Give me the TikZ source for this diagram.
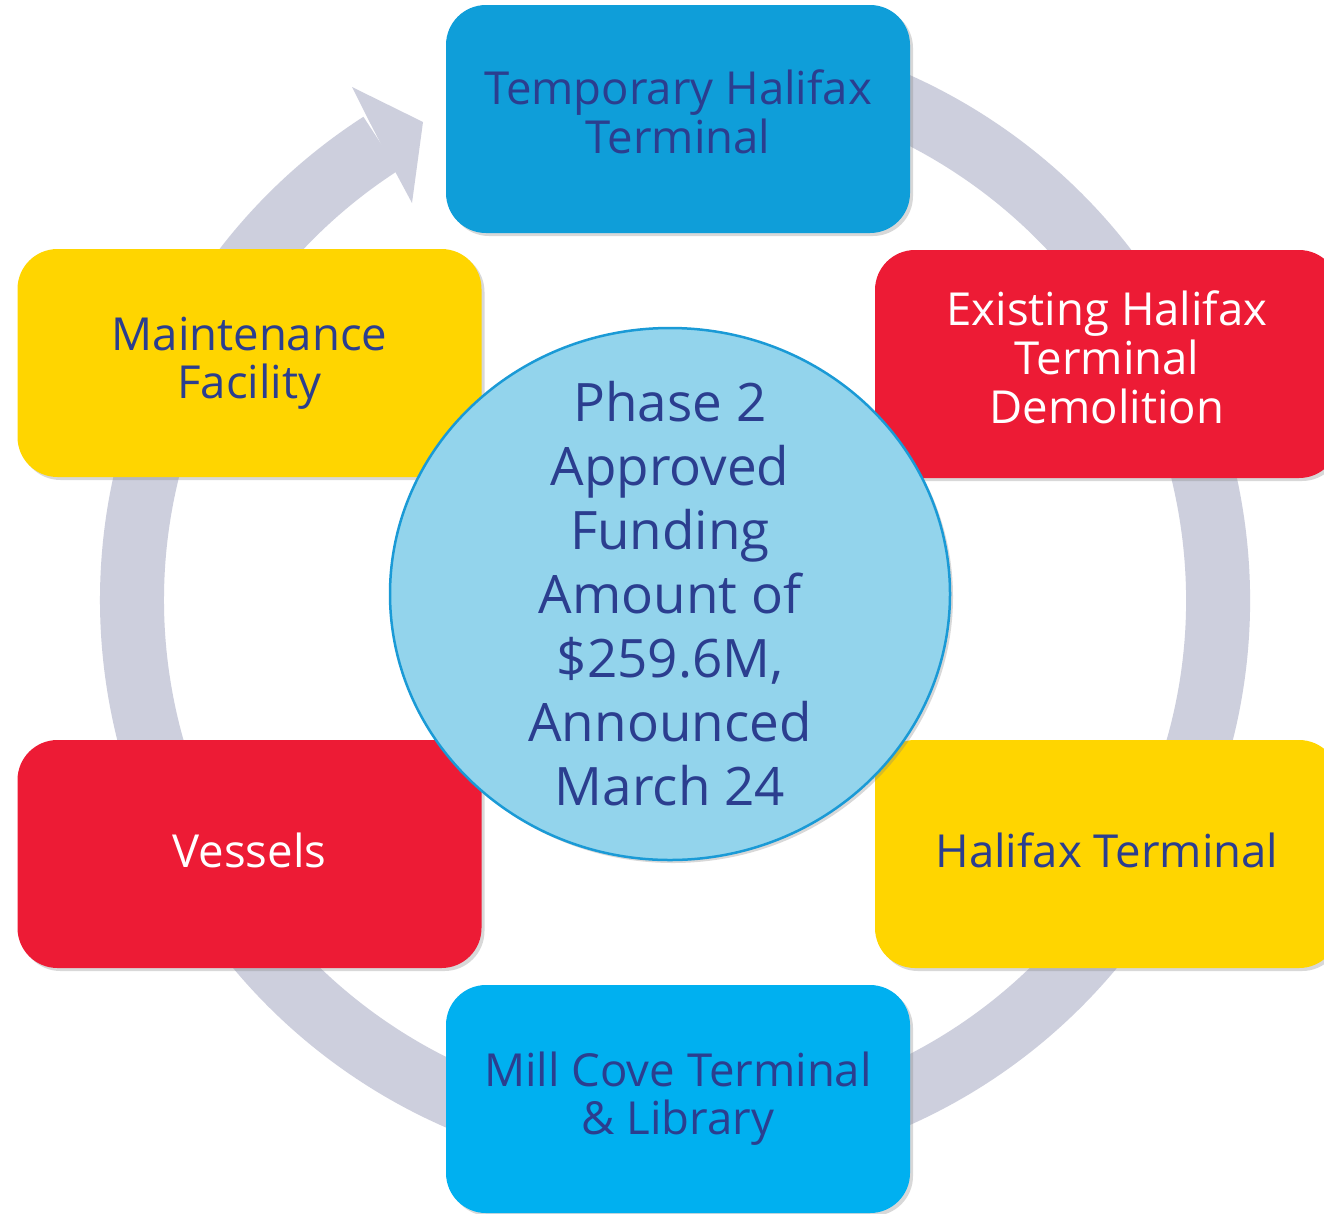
\documentclass[tikz,border=0pt]{standalone}
\usepackage{fontspec}
\setmainfont{Open Sans}
\usetikzlibrary{shadows,shapes.geometric}
\definecolor{ringgray}{HTML}{CDCFDD}
\definecolor{topblue}{HTML}{0F9ED9}
\definecolor{botblue}{HTML}{00B0F0}
\definecolor{boxred}{HTML}{ED1B35}
\definecolor{boxyellow}{HTML}{FFD500}
\definecolor{navytext}{HTML}{2B3E8F}
\definecolor{circfill}{HTML}{93D4EC}
\definecolor{circline}{HTML}{1A9AD6}
\tikzset{
  phasebox/.style={draw=none, rounded corners=40pt, minimum width=464pt, minimum height=228pt,
    align=center, inner sep=0pt, font=\fontsize{45.5}{48}\selectfont,
    drop shadow={shadow xshift=3pt, shadow yshift=-3pt, opacity=0.3}},
  bluetext/.style={text=navytext},
  whitetext/.style={text=white},
}
\begin{document}
\begin{tikzpicture}[x=1pt,y=-1pt]
\useasboundingbox (0,0) rectangle (1324,1213);
\fill[white] (0,0) rectangle (1324,1213);
% ring with arrow
\coordinate (rc) at (675,600);
\draw[ringgray, line width=64pt] (rc) ++(-100:543) arc[start angle=-100, end angle=237.2, radius=543];
\fill[ringgray] (352,87) -- (423,122) -- (412,203) -- (397,175) -- (367,117) -- cycle;
% boxes
\node[phasebox, fill=topblue, bluetext] (temp) at (678,119) {\raisebox{5pt}{\begin{tabular}{@{}c@{}}Temporary Halifax\\Terminal\end{tabular}}};
\node[phasebox, fill=boxred, whitetext] (exist) at (1107,364) {\raisebox{5pt}{\begin{tabular}{@{}c@{}}Existing Halifax\\Terminal\\Demolition\end{tabular}}};
\node[phasebox, fill=boxyellow, bluetext] (halt) at (1107,854) {\raisebox{7pt}{Halifax Terminal}};
\node[phasebox, fill=botblue, bluetext] (mill) at (678,1099) {Mill Cove Terminal\\\& Library};
\node[phasebox, fill=boxred, whitetext] (vess) at (249.5,854) {\raisebox{7pt}{Vessels}};
\node[phasebox, fill=boxyellow, bluetext] (maint) at (249.5,363) {Maintenance\\Facility};
% centre
\fill[circfill, draw=circline, line width=2.5pt, drop shadow={shadow xshift=3pt, shadow yshift=-3pt, opacity=0.3}]
  (670,594) ellipse[x radius=280, y radius=266];
\node[align=center, inner sep=0pt, text=navytext, font=\fontsize{53}{64}\selectfont] (centre) at (670,594)
  {Phase 2\\Approved\\Funding\\Amount of\\\$259.6M,\\Announced\\March 24};
\end{tikzpicture}
\end{document}
